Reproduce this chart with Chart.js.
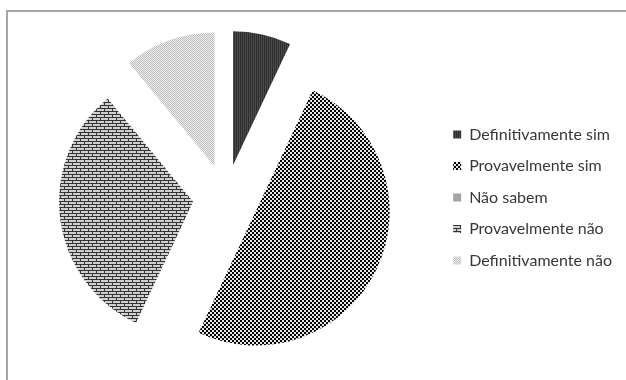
<!DOCTYPE html>
<html>
<head>
<meta charset="utf-8">
<script src="https://cdn.jsdelivr.net/npm/chart.js"></script>
<style>
  html, body { margin: 0; padding: 0; background: #fff; overflow: hidden; }
  #frame { position: absolute; left: 6px; top: 10px; width: 660px; height: 420px; border: 2px solid #a6a6a6; }
  #wrap { position: absolute; left: 0; top: 0; width: 626px; height: 380px; }
</style>
</head>
<body>
<div id="frame"></div>
<div id="wrap"><canvas id="myChart" width="626" height="380"></canvas></div>

<script>
  const categorias = ['Definitivamente sim', 'Provavelmente sim', 'Não sabem', 'Provavelmente não', 'Definitivamente não'];
  const percentuais = [7, 50, 0, 32, 11];

  // small repeating tiles used as fill patterns for the slices
  function makePattern(w, h, paint) {
    const c = document.createElement('canvas');
    c.width = w; c.height = h;
    const g = c.getContext('2d');
    paint(g);
    return g.createPattern(c, 'repeat');
  }

  const escuroVertical = makePattern(2, 1, g => {
    g.fillStyle = '#2c2c2c'; g.fillRect(0, 0, 1, 1);
    g.fillStyle = '#4c4c4c'; g.fillRect(1, 0, 1, 1);
  });
  const xadrez = makePattern(4, 4, g => {
    g.fillStyle = '#e6e6e6'; g.fillRect(0, 0, 4, 4);
    g.fillStyle = '#000'; g.fillRect(0, 0, 2, 2); g.fillRect(2, 2, 2, 2);
  });
  const cinzaSolido = '#a5a5a5';
  const tijolos = makePattern(8, 6, g => {
    g.fillStyle = '#d0d0d0'; g.fillRect(0, 0, 8, 6);
    g.fillStyle = '#333';
    g.fillRect(0, 0, 8, 1); g.fillRect(0, 3, 8, 1);
    g.fillRect(0, 1, 1, 2); g.fillRect(4, 4, 1, 2);
  });
  const pontilhado = makePattern(2, 2, g => {
    g.fillStyle = '#efefef'; g.fillRect(0, 0, 2, 2);
    g.fillStyle = '#bdbdbd'; g.fillRect(0, 0, 1, 1); g.fillRect(1, 1, 1, 1);
  });

  // pulls every slice outward along its own bisector
  const explodir = {
    id: 'explodir',
    afterUpdate(chart) {
      const dist = chart.options.plugins.explodir.distance;
      chart.getDatasetMeta(0).data.forEach(arc => {
        const mid = (arc.startAngle + arc.endAngle) / 2;
        arc.x += Math.cos(mid) * dist;
        arc.y += Math.sin(mid) * dist;
      });
    }
  };

  const ctx = document.getElementById('myChart');
  new Chart(ctx, {
    type: 'pie',
    data: {
      labels: categorias,
      datasets: [{
        data: percentuais,
        backgroundColor: [escuroVertical, xadrez, cinzaSolido, tijolos, pontilhado],
        borderWidth: 0,
        radius: 134
      }]
    },
    options: {
      responsive: false,
      animation: false,
      events: [],
      layout: { padding: { left: 14, top: 15, right: 4, bottom: 0 } },
      plugins: {
        explodir: { distance: 33 },
        tooltip: { enabled: false },
        legend: {
          position: 'right',
          labels: {
            boxWidth: 8,
            boxHeight: 8,
            padding: 15.5,
            color: '#383838',
            font: { family: 'Lato', size: 16 }
          }
        }
      }
    },
    plugins: [explodir]
  });
</script>
</body>
</html>
